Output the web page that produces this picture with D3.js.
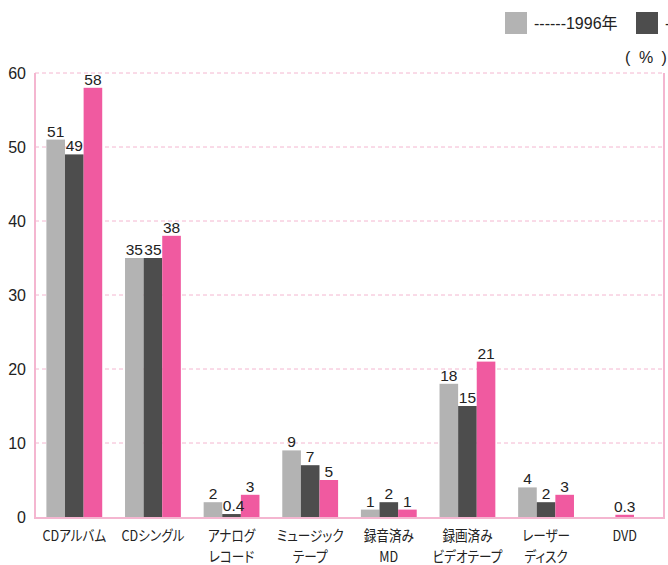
<!DOCTYPE html>
<html>
<head>
<meta charset="utf-8">
<script src="https://cdn.jsdelivr.net/npm/d3@7"></script>
<style>
  html, body { margin: 0; padding: 0; background: #fff; }
  svg { display: block; }
  text { font-family: "Liberation Sans", Arial, "Noto Sans CJK JP", sans-serif; fill: #222; }
  .jp { font-family: "Noto Sans CJK JP", sans-serif; font-feature-settings: "palt"; }
</style>
</head>
<body>
<svg id="chart" width="668" height="565"></svg>
<script>
// Categories (two-line labels) and values per year (%); null = not surveyed
const categories = [
  ["CDアルバム"], ["CDシングル"], ["アナログ", "レコード"], ["ミュージック", "テープ"],
  ["録音済み", "MD"], ["録画済み", "ビデオテープ"], ["レーザー", "ディスク"], ["DVD"]
];
const seriesNames = ["------1996年", "------1997年", "------1998年"];
const values1996 = [51, 35, 2, 9, 1, 18, 4, null];
const values1997 = [49, 35, 0.4, 7, 2, 15, 2, null];
const values1998 = [58, 38, 3, 5, 1, 21, 3, 0.3];
const yTicks = [0, 10, 20, 30, 40, 50, 60];
const colors = ["#b3b3b3", "#4d4d4d", "#f05aa0"];

const series = [values1996, values1997, values1998];
const svg = d3.select("#chart");
const plotLeft = 35, plotRight = 664, plotTop = 73, plotBottom = 517;

const x = d3.scaleBand().domain(d3.range(categories.length)).range([plotLeft, plotRight]).paddingInner(0.29).paddingOuter(0.145);
const y = d3.scaleLinear().domain([0, 60]).range([plotBottom, plotTop]);
const gridColor = "#f4b6d0";

// dashed horizontal gridlines
svg.append("g").selectAll("line").data(yTicks.filter(d => d > 0)).join("line")
  .attr("x1", plotLeft).attr("x2", plotRight)
  .attr("y1", d => y(d)).attr("y2", d => y(d))
  .attr("stroke", gridColor).attr("stroke-width", 1).attr("stroke-dasharray", "4,3");

// y axis tick labels
const yAxis = d3.axisLeft(y).tickValues(yTicks).tickSize(0).tickPadding(9);
const ga = svg.append("g").attr("transform", `translate(${plotLeft},0)`).call(yAxis);
ga.select(".domain").remove();
ga.selectAll("text").attr("font-size", 16).attr("fill", "#222")
  .style("font-family", '"Liberation Sans", Arial, sans-serif');

// bars
const barW = x.bandwidth() / 3;
categories.forEach((cat, i) => {
  const present = series.map((s, k) => ({ k, v: s[i] })).filter(d => d.v !== null);
  const inner = d3.scaleBand().domain(present.map(d => d.k)).range([0, barW * present.length]);
  const x0 = x(i) + (x.bandwidth() - barW * present.length) / 2;
  const g = svg.append("g").attr("transform", `translate(${x0},0)`);
  g.selectAll("rect").data(present).join("rect")
    .attr("x", d => inner(d.k)).attr("width", barW)
    .attr("y", d => y(d.v)).attr("height", d => y(0) - y(d.v))
    .attr("fill", d => colors[d.k]);
  g.selectAll("text").data(present).join("text")
    .attr("x", d => inner(d.k) + barW / 2 + (d.v < 1 && d.k === 1 ? 2 : 0))
    .attr("y", d => y(d.v) - 3)
    .attr("text-anchor", "middle").attr("font-size", 15.5)
    .text(d => d.v);
});

// plot frame: left, right, bottom solid pink
const frame = d3.path();
frame.moveTo(plotLeft, plotTop); frame.lineTo(plotLeft, plotBottom + 1);
frame.lineTo(plotRight, plotBottom + 1); frame.lineTo(plotRight, plotTop);
svg.append("path").attr("d", frame.toString()).attr("fill", "none")
  .attr("stroke", gridColor).attr("stroke-width", 2);

// category labels, set in a slightly condensed face
categories.forEach((lines, i) => {
  const cx = x(i) + x.bandwidth() / 2;
  const t = svg.append("text").attr("class", "jp")
    .attr("transform", `translate(${cx},541) scale(0.87,1)`)
    .attr("text-anchor", "middle").attr("font-size", 14.5);
  lines.forEach((ln, j) => t.append("tspan")
    .attr("x", 0).attr("dy", j === 0 ? 0 : 21).text(ln));
});

// legend
const lg = svg.append("g");
seriesNames.forEach((name, k) => {
  const lx = 505 + k * 131;
  lg.append("rect").attr("x", lx).attr("y", 12).attr("width", 22).attr("height", 22).attr("fill", colors[k]);
  lg.append("text").attr("x", lx + 29).attr("y", 29).attr("font-size", 16).text(name);
});

// unit
svg.append("text").attr("x", 647).attr("y", 63).attr("text-anchor", "middle")
  .attr("font-size", 16).attr("letter-spacing", 2).text("( % )");
</script>
</body>
</html>
